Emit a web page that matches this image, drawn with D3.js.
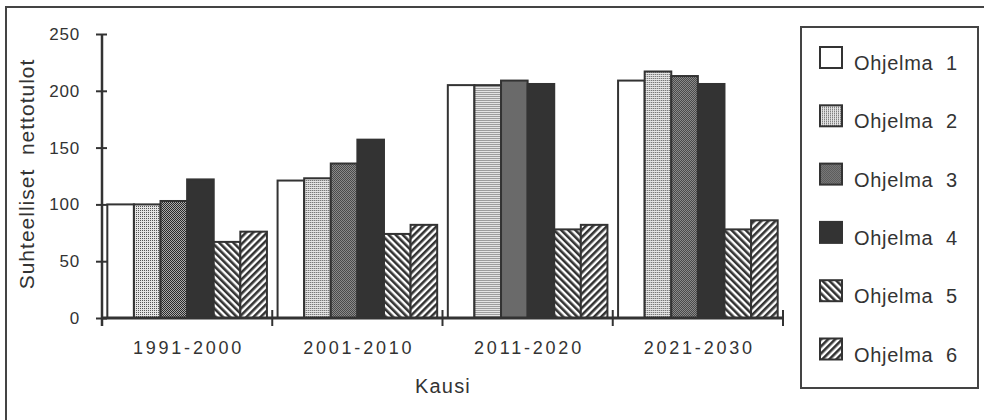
<!DOCTYPE html>
<html>
<head>
<meta charset="utf-8">
<script src="https://cdn.jsdelivr.net/npm/d3@7"></script>
<style>
  body { margin: 0; background: #fff; }
  text { font-family: "Liberation Sans", Arial, sans-serif; fill: #333; }
</style>
</head>
<body>
<svg id="chart" width="984" height="420"></svg>
<script>
const periods = ["1991-2000", "2001-2010", "2011-2020", "2021-2030"];
const series = ["Ohjelma 1", "Ohjelma 2", "Ohjelma 3", "Ohjelma 4", "Ohjelma 5", "Ohjelma 6"];
// one array per programme, values per period
const ohjelma1 = [100, 121, 205, 209];
const ohjelma2 = [100, 123, 205, 217];
const ohjelma3 = [103, 136, 209, 213];
const ohjelma4 = [122, 157, 206, 206];
const ohjelma5 = [67, 74, 78, 78];
const ohjelma6 = [76, 82, 82, 86];
const yTicks = [0, 50, 100, 150, 200, 250];

const values = [ohjelma1, ohjelma2, ohjelma3, ohjelma4, ohjelma5, ohjelma6];
const ink = "#333";

const svg = d3.select("#chart");
const defs = svg.append("defs");

// fills: white, light stipple, dark stipple, solid, "\" hatch, "/" hatch
function stipple(id, dark, light) {
  const p = defs.append("pattern")
    .attr("id", id)
    .attr("patternUnits", "userSpaceOnUse")
    .attr("width", 2).attr("height", 2);
  p.append("rect").attr("width", 2).attr("height", 2).attr("fill", light);
  p.append("rect").attr("width", 1).attr("height", 1).attr("fill", dark);
  return `url(#${id})`;
}
function hatch(id, angle) {
  const p = defs.append("pattern")
    .attr("id", id)
    .attr("patternUnits", "userSpaceOnUse")
    .attr("width", 5).attr("height", 5)
    .attr("patternTransform", `rotate(${angle})`);
  p.append("rect").attr("width", 5).attr("height", 5).attr("fill", "#fff");
  p.append("rect").attr("width", 2.6).attr("height", 5).attr("fill", ink);
  return `url(#${id})`;
}
const p3 = defs.append("pattern")
  .attr("id", "st3")
  .attr("patternUnits", "userSpaceOnUse")
  .attr("width", 2).attr("height", 2);
p3.append("rect").attr("width", 2).attr("height", 2).attr("fill", "#aaa");
p3.append("rect").attr("width", 1).attr("height", 1).attr("fill", "#2a2a2a");
p3.append("rect").attr("x", 1).attr("y", 1).attr("width", 1).attr("height", 1).attr("fill", "#2a2a2a");

const fills = ["#fff", stipple("st2", "#555", "#e4e4e4"), "url(#st3)", ink, hatch("h5", -45), hatch("h6", 45)];

// outer frame (right and bottom edges run off the page)
svg.append("rect")
  .attr("x", 6).attr("y", 7)
  .attr("width", 1000).attr("height", 440)
  .attr("fill", "none").attr("stroke", "#444").attr("stroke-width", 2);

const x0 = d3.scaleBand().domain(periods).range([102, 783]);
const x1 = d3.scaleBand().domain(series).range([0, x0.bandwidth()]).paddingOuter(0.2);
const y = d3.scaleLinear().domain([0, 250]).range([318, 34]);

// bars
const groups = svg.append("g").selectAll("g")
  .data(periods)
  .join("g")
  .attr("transform", d => `translate(${x0(d)},0)`);

groups.selectAll("rect")
  .data((p, i) => series.map((s, j) => ({ s, j, v: values[j][i] })))
  .join("rect")
  .attr("x", d => x1(d.s))
  .attr("y", d => y(d.v))
  .attr("width", x1.bandwidth())
  .attr("height", d => y(0) - y(d.v))
  .attr("fill", d => fills[d.j])
  .attr("stroke", ink)
  .attr("stroke-width", 2);

// y axis
const yAxis = svg.append("g")
  .attr("transform", "translate(102,0)")
  .call(d3.axisLeft(y).tickValues(yTicks).tickSize(6).tickPadding(16));
yAxis.select(".domain").remove();
yAxis.selectAll(".tick line").attr("x1", 5).attr("stroke", ink).attr("stroke-width", 2);
yAxis.selectAll(".tick text")
  .attr("font-size", 17).attr("letter-spacing", 0.8)
  .attr("font-family", "Liberation Sans, Arial, sans-serif")
  .attr("fill", ink);
svg.append("line")
  .attr("x1", 102).attr("x2", 102)
  .attr("y1", y(250)).attr("y2", 326)
  .attr("stroke", ink).attr("stroke-width", 2.5);

// x axis
svg.append("line")
  .attr("x1", 102).attr("x2", 784)
  .attr("y1", y(0)).attr("y2", y(0))
  .attr("stroke", ink).attr("stroke-width", 3);
const bounds = periods.map(p => x0(p)).slice(1).concat([x0.range()[1]]);
svg.append("g").selectAll("line")
  .data(bounds)
  .join("line")
  .attr("x1", d => d).attr("x2", d => d)
  .attr("y1", 310).attr("y2", 326)
  .attr("stroke", ink).attr("stroke-width", 2);
svg.append("g").selectAll("text")
  .data(periods)
  .join("text")
  .attr("x", d => x0(d) + x0.bandwidth() / 2 + 1.4)
  .attr("y", 354)
  .attr("text-anchor", "middle")
  .attr("font-size", 18)
  .attr("letter-spacing", 2.8)
  .text(d => d);

// axis titles
svg.append("text")
  .attr("x", 443).attr("y", 393)
  .attr("text-anchor", "middle")
  .attr("font-size", 20).attr("letter-spacing", 1.2)
  .text("Kausi");
svg.append("text")
  .attr("transform", "translate(34,174) rotate(-90)")
  .attr("text-anchor", "middle")
  .attr("font-size", 21).attr("letter-spacing", 1)
  .style("white-space", "pre")
  .text("Suhteelliset  nettotulot");

// legend
svg.append("rect")
  .attr("x", 801).attr("y", 27)
  .attr("width", 177).attr("height", 361)
  .attr("fill", "#fff").attr("stroke", "#444").attr("stroke-width", 2);
const leg = svg.append("g").selectAll("g")
  .data(series)
  .join("g")
  .attr("transform", (d, i) => `translate(820,${47 + i * 58.3})`);
leg.append("rect")
  .attr("width", 22).attr("height", 21)
  .attr("fill", (d, i) => fills[i])
  .attr("stroke", ink).attr("stroke-width", 2);
leg.append("text")
  .attr("x", 34).attr("y", 23)
  .attr("font-size", 20).attr("letter-spacing", 0.7)
  .style("white-space", "pre")
  .text(d => d.replace(" ", "  "));
</script>
</body>
</html>
